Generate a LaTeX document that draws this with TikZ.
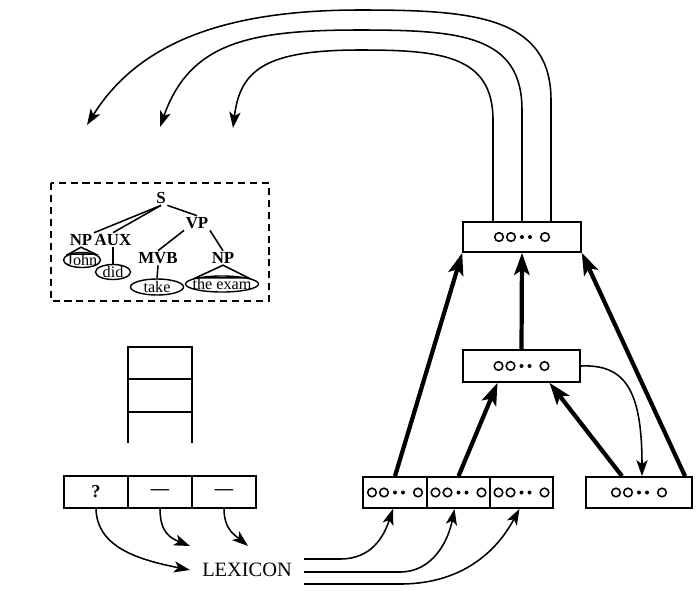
\documentclass[tikz,border=0pt]{standalone}
\usepackage{fontspec}
\setmainfont{Liberation Serif}
\usetikzlibrary{arrows.meta,calc,shapes.geometric}
\tikzset{
  wire/.style={line width=1.1pt},
  tip/.style={-{Stealth[length=4mm,width=2.8mm,inset=1mm]}},
  heavy/.style={line width=3pt,-{Stealth[length=5.5mm,width=3.8mm,inset=1.2mm]}},
  unitbox/.style={draw,line width=1.1pt,inner sep=0pt,minimum height=0.78cm},
  cell/.style={draw,line width=1.1pt,inner sep=0pt,minimum width=1.6cm,minimum height=0.8cm,font=\fontsize{13}{15}\selectfont\bfseries},
  cat/.style={inner sep=1pt,font=\fontsize{12}{14}\selectfont\bfseries},
  wordtext/.style={inner sep=0pt,font=\fontsize{11.5}{13}\selectfont},
  word/.style={draw,ellipse,line width=1pt,inner sep=0pt},
  units/.pic={
    \foreach \dx in {-23,-11,23} \draw[line width=1.1pt] (\dx,0) circle[radius=4.3];
    \foreach \dx in {0,8} \fill (\dx,0) circle[radius=2];
  }
}
\begin{document}
\begin{tikzpicture}[x=0.025cm,y=-0.025cm]
\useasboundingbox (0,0) rectangle (696,601);

% ---------- parse tree in dashed box ----------
\draw[line width=1.2pt,dash pattern=on 5pt off 3.5pt] (51,183) rectangle (269,301);
\node[cat] (S) at (161,198) {S};
\node[cat] (VP) at (197,223) {VP};
\node[cat] (NP) at (81,240) {NP};
\node[cat] (AUX) at (113,240) {AUX};
\node[cat] (MVB) at (158,258) {MVB};
\node[cat] (NPb) at (223,258) {NP};
\node[word,minimum width=0.925cm,minimum height=0.375cm,label={[wordtext]center:John}] (john) at (82,260) {};
\node[word,minimum width=0.875cm,minimum height=0.375cm,label={[wordtext]center:did}] (did) at (113,272) {};
\node[word,minimum width=1.325cm,minimum height=0.4cm,label={[wordtext]center:take}] (take) at (157,287) {};
\node[word,minimum width=1.825cm,minimum height=0.4cm,label={[wordtext]center:the exam}] (exam) at (222,284) {};
\draw[wire] (S.south) -- (NP.north east);
\draw[wire] (S.south) -- (AUX.north);
\draw[wire] (S.south east) -- (VP.north);
\draw[wire] (VP.south west) -- (MVB.north);
\draw[wire] (VP.south east) -- (NPb.north);
\draw[wire] (NP.south) -- (john.north west) -- (john.north east) -- cycle;
\draw[wire] (NPb.south) -- (exam.north west) -- (exam.north east) -- cycle;
\draw[wire] (AUX.south) -- (did.north);
\draw[wire] (MVB.south) -- (take.north);

% ---------- stack ----------
\draw[wire] (128,443) -- (128,347) -- (192,347) -- (192,443);
\draw[wire] (128,379) -- (192,379);
\draw[wire] (128,412) -- (192,412);

% ---------- buffer ----------
\node[cell] (c1) at (96,492) {?};
\node[cell] (c2) at (160,492) {---};
\node[cell] (c3) at (224,492) {---};

\node[inner xsep=0.3cm,inner ysep=2pt,font=\fontsize{14.5}{17}\selectfont] (lex) at (247,570) {LEXICON};
\coordinate (a2) at (190,546);
\coordinate (a3) at (248,546);
\draw[wire,tip] (c1.south) .. controls (97,548) and (140,560) .. (lex.west);
\draw[wire,tip] (c2.south) .. controls (160,532) and (170,538) .. (a2);
\draw[wire,tip] (c3.south) .. controls (224,530) and (236,536) .. (a3);

% ---------- network ----------
\node[unitbox,minimum width=1.6cm] (b1) at (395,492.5) {};
\node[unitbox,minimum width=1.575cm] (b2) at (458.5,492.5) {};
\node[unitbox,minimum width=1.575cm] (b3) at (521.5,492.5) {};
\node[unitbox,minimum width=2.65cm] (rb) at (639,492.5) {};
\node[unitbox,minimum width=2.925cm,minimum height=0.8cm] (mid) at (521.5,366) {};
\node[unitbox,minimum width=2.95cm,minimum height=0.75cm] (top) at (522,237) {};
\foreach \n in {b1,b2,b3,rb,mid,top} \pic at (\n) {units};

\draw[heavy] (b1.north) -- (top.south west);
\draw[heavy] (b2.north) -- ($(mid.south)+(-24,0)$);
\draw[heavy] (mid.north) -- (top.south);
\draw[heavy] ($(rb.north)+(-17,0)$) -- ($(mid.south)+(28,0)$);
\draw[heavy] ($(rb.north)+(46,0)$) -- (top.south east);
\draw[wire,tip] (mid.east) .. controls (625,364) and (642,390) .. ($(rb.north)+(3,0)$);

\draw[wire,tip] ($(lex.east)+(0,-11)$) -- (340,559) .. controls (372,559) and (384,536) .. ($(b1.south)+(-2,0)$);
\draw[wire,tip] ($(lex.east)+(0,2)$) -- (400,572) .. controls (432,572) and (448,542) .. ($(b2.south)+(-4,0)$);
\draw[wire,tip] ($(lex.east)+(0,14)$) -- (400,584) .. controls (468,584) and (500,545) .. ($(b3.south)+(-2,0)$);

% ---------- feedback arrows ----------
\coordinate (e1) at (87,125);
\coordinate (e2) at (160,127);
\coordinate (e3) at (233,128);
\draw[wire,tip] ($(top.north)+(29,0)$) -- (551,100) .. controls (551,15) and (470,10) .. (360,10) .. controls (230,10) and (140,40) .. (e1);
\draw[wire,tip] (top.north) -- (522,110) .. controls (522,35) and (460,30) .. (360,30) .. controls (250,30) and (190,42) .. (e2);
\draw[wire,tip] ($(top.north)+(-29,0)$) -- (493,120) .. controls (493,55) and (440,50) .. (360,50) .. controls (265,50) and (240,70) .. (e3);
\end{tikzpicture}
\end{document}
